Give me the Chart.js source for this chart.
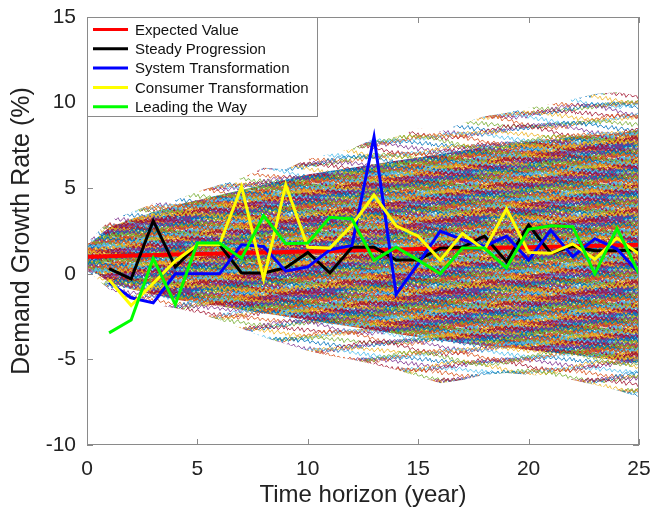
<!DOCTYPE html>
<html>
<head>
<meta charset="utf-8">
<script src="https://cdn.jsdelivr.net/npm/chart.js@4.4.1/dist/chart.umd.min.js"></script>
<style>
    html, body { margin: 0; padding: 0; background: #fff; }
    #demandChart { display: block; }
</style>
</head>
<body>
<canvas id="demandChart" width="663" height="511"></canvas>
<script>
// scenario years and values
const years = [1, 2, 3, 4, 5, 6, 7, 8, 9, 10, 11, 12, 13, 14, 15, 16, 17, 18, 19, 20, 21, 22, 23, 24, 25];
const steadyProgression = [0.3, -0.3, 3.1, 0.4, 1.7, 1.7, 0.05, 0.05, 0.35, 1.25, 0.05, 1.55, 1.55, 0.8, 0.8, 1.5, 1.55, 2.2, 0.7, 2.85, 1.2, 1.6, 1.35, 1.35, 1.4];
const systemTransformation = [-0.5, -1.4, -1.7, 0, 0, 0, 1.7, 1.6, 0.15, 0.4, 1.4, 1.65, 8.0, -1.2, 0.6, 2.5, 2.0, 1.6, 2.2, 0.8, 2.55, 1.0, 2.05, 1.45, 0.05];
const consumerTransformation = [-0.35, -1.85, -0.55, 0.75, 1.7, 1.7, 5.1, -0.3, 5.2, 1.55, 1.5, 2.85, 4.6, 2.8, 2.2, 0.8, 2.35, 1.4, 3.8, 1.25, 1.2, 1.75, 0.85, 2.1, 1.15];
const leadingTheWay = [-3.45, -2.7, 0.9, -1.8, 1.8, 1.8, 0.9, 3.4, 1.75, 1.8, 3.3, 3.2, 0.8, 1.55, 0.8, 0, 1.5, 1.5, 0.35, 2.6, 2.8, 2.75, 0, 2.65, 0];

const expectedYears = [0, 5, 10, 15, 20, 25];
const expectedValue = [1.0, 1.15, 1.3, 1.45, 1.55, 1.7];

// monte carlo fan: envelopes, yearly
const fanYears = [0, 1, 2, 3, 4, 5, 6, 7, 8, 9, 10, 11, 12, 13, 14, 15, 16, 17, 18, 19, 20, 21, 22, 23, 24, 25];
const outerUpper = [1.8, 3.1, 3.6, 4.1, 4.3, 4.8, 5.2, 5.6, 6.2, 6.1, 6.7, 7.0, 7.3, 7.9, 8.0, 8.5, 8.3, 8.8, 9.2, 9.4, 9.7, 9.9, 10.2, 10.5, 10.6, 10.4];
const coreUpper = [1.6, 2.7, 3.2, 3.6, 4.0, 4.3, 4.6, 4.9, 5.2, 5.5, 5.8, 6.0, 6.2, 6.4, 6.6, 6.8, 7.0, 7.2, 7.4, 7.5, 7.7, 7.8, 8.0, 8.1, 8.2, 8.4];
const coreLower = [0.4, -0.5, -0.9, -1.2, -1.5, -1.7, -1.9, -2.1, -2.3, -2.5, -2.7, -2.9, -3.1, -3.3, -3.5, -3.7, -3.9, -4.05, -4.2, -4.3, -4.45, -4.6, -4.7, -4.9, -5.05, -5.2];
const outerLower = [0.2, -0.9, -1.5, -1.8, -2.0, -2.3, -2.7, -3.2, -3.7, -4.1, -4.5, -4.8, -5.0, -5.3, -5.6, -6.0, -6.4, -6.2, -5.9, -5.8, -5.9, -6.0, -6.2, -6.5, -6.8, -7.2];

const xTicks = [0, 5, 10, 15, 20, 25];
const yTicks = [-10, -5, 0, 5, 10, 15];

const FONT = "'Liberation Sans', Arial, Helvetica, sans-serif";
const axisColor = '#8a8a8a';
const matlabColors = ['#0072BD', '#D95319', '#EDB120', '#7E2F8E', '#77AC30', '#4DBEEE', '#A2142F'];

const canvas = document.getElementById('demandChart');
const ctx = canvas.getContext('2d');

// wiggly multi-coloured lines used as fill texture for the simulation fan
function makeTexture(gap, alpha, lw) {
    const tile = document.createElement('canvas');
    tile.width = 144;
    tile.height = 72;
    const g = tile.getContext('2d');
    const jitter = [0, 1.8, -1.1, 2.4, 0.6, -2.1, 1.4, -1.6, 2.6, -0.3, -1.9, 1.0, 0.2, -1.4, 2.0, -0.8];
    g.lineWidth = lw;
    g.globalAlpha = alpha;
    let k = 0;
    for (let r = 0; r < 72; r += gap, k++) {
        g.strokeStyle = matlabColors[(k * 3) % 7];
        const amp = 2.5 + (k % 4) * 1.2;
        for (const dy of [-72, 0, 72]) {
            g.beginPath();
            for (let j = 0; j <= 72; j++) {
                const yy = r + dy + jitter[(j + k * 7) % 16] + amp * Math.sin((j + k * 13) * Math.PI / 36);
                if (j === 0) g.moveTo(0, yy); else g.lineTo(j * 2, yy);
            }
            g.stroke();
        }
    }
    return ctx.createPattern(tile, 'repeat');
}

const pts = (xs, ys) => xs.map((x, i) => ({ x: x, y: ys[i] }));

const scenarios = [
    { label: 'Expected Value', color: '#FF0000', width: 4, xs: expectedYears, ys: expectedValue },
    { label: 'Steady Progression', color: '#000000', width: 3, xs: years, ys: steadyProgression },
    { label: 'System Transformation', color: '#0000FF', width: 3, xs: years, ys: systemTransformation },
    { label: 'Consumer Transformation', color: '#FFFF00', width: 3, xs: years, ys: consumerTransformation },
    { label: 'Leading the Way', color: '#00FF00', width: 3, xs: years, ys: leadingTheWay }
];

const lineSets = scenarios.map((s, i) => ({
    label: s.label,
    data: pts(s.xs, s.ys),
    borderColor: s.color,
    borderWidth: s.width,
    pointRadius: 0,
    fill: false,
    order: 5 - i
}));

const band = (label, ys, fill, bg, order) => ({
    label: label,
    data: pts(fanYears, ys),
    borderColor: 'transparent',
    borderWidth: 0,
    pointRadius: 0,
    fill: fill,
    backgroundColor: bg,
    order: order
});

const fanSets = [
    band('coreUpper', coreUpper, '+1', makeTexture(0.9, 1, 1.1), 6),
    band('coreLower', coreLower, false, 'transparent', 7),
    band('outerUpper', outerUpper, '+1', makeTexture(2.6, 0.8, 1), 8),
    band('outerLower', outerLower, false, 'transparent', 9)
];

// box, inward ticks and the legend (matlab look)
const framePlugin = {
    id: 'frame',
    afterDraw(chart) {
        const { ctx, chartArea: a, scales: { x, y } } = chart;
        ctx.save();
        ctx.strokeStyle = axisColor;
        ctx.lineWidth = 1;
        ctx.strokeRect(a.left + 0.5, a.top + 0.5, a.right - a.left - 1, a.bottom - a.top - 1);
        ctx.beginPath();
        xTicks.forEach(v => {
            const px = Math.round(x.getPixelForValue(v)) + 0.5;
            ctx.moveTo(px, a.bottom); ctx.lineTo(px, a.bottom - 6);
            ctx.moveTo(px, a.top); ctx.lineTo(px, a.top + 6);
        });
        yTicks.forEach(v => {
            const py = Math.round(y.getPixelForValue(v)) + 0.5;
            ctx.moveTo(a.left, py); ctx.lineTo(a.left + 6, py);
            ctx.moveTo(a.right, py); ctx.lineTo(a.right - 6, py);
        });
        ctx.stroke();

        // legend
        const lx = a.left + 0.5, ly = a.top + 0.5, lw = 230, lh = 99;
        ctx.fillStyle = '#fff';
        ctx.fillRect(lx, ly, lw, lh);
        ctx.strokeRect(lx, ly, lw, lh);
        ctx.font = '15px ' + FONT;
        ctx.textBaseline = 'middle';
        scenarios.forEach((s, i) => {
            const yy = a.top + 12.5 + i * 19.3;
            ctx.strokeStyle = s.color;
            ctx.lineWidth = 3;
            ctx.beginPath();
            ctx.moveTo(a.left + 6, yy);
            ctx.lineTo(a.left + 41, yy);
            ctx.stroke();
            ctx.fillStyle = '#111';
            ctx.fillText(s.label, a.left + 48, yy + 1);
        });
        ctx.restore();
    }
};

new Chart(ctx, {
    type: 'line',
    data: { datasets: lineSets.concat(fanSets) },
    options: {
        responsive: false,
        animation: false,
        layout: { padding: { left: 0, top: 17, right: 24, bottom: 0 } },
        elements: { line: { tension: 0 } },
        scales: {
            x: {
                type: 'linear',
                min: 0,
                max: 25,
                grid: { display: false },
                border: { display: false },
                ticks: { stepSize: 5, padding: 4, color: '#222', font: { family: FONT, size: 21 } },
                title: { display: true, text: 'Time horizon (year)', color: '#222', font: { family: FONT, size: 24 }, padding: { top: 0, bottom: 1 } },
                afterFit: s => { s.height = 66; }
            },
            y: {
                min: -10,
                max: 15,
                grid: { display: false },
                border: { display: false },
                ticks: { stepSize: 5, padding: 3, color: '#222', font: { family: FONT, size: 21 } },
                title: { display: true, text: 'Demand Growth Rate (%)', color: '#222', font: { family: FONT, size: 25 }, padding: { top: 7, bottom: 0 } },
                afterFit: s => { s.width = 87; }
            }
        },
        plugins: {
            legend: { display: false },
            tooltip: { enabled: false }
        }
    },
    plugins: [framePlugin]
});
</script>
</body>
</html>
